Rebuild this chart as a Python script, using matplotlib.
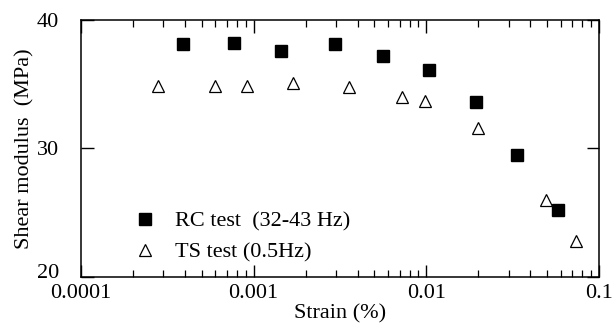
import matplotlib
matplotlib.use("Agg")
import matplotlib.pyplot as plt
import matplotlib.transforms as mtransforms
from matplotlib.ticker import LogLocator, FixedLocator, NullFormatter, FixedFormatter

plt.rcParams['font.family'] = ['Liberation Serif', 'DejaVu Serif']

# Resonant column test
rc_strain = [3.9e-4, 7.7e-4, 1.44e-3, 2.97e-3, 5.6e-3, 1.04e-2, 1.93e-2, 3.36e-2, 5.8e-2]
rc_modulus = [38.1, 38.2, 37.6, 38.1, 37.2, 36.1, 33.6, 29.5, 25.2]

# Torsional shear test
ts_strain = [2.8e-4, 6.0e-4, 9.1e-4, 1.70e-3, 3.55e-3, 7.2e-3, 9.8e-3, 1.98e-2, 4.9e-2, 7.35e-2]
ts_modulus = [34.9, 34.9, 34.9, 35.1, 34.8, 34.0, 33.7, 31.6, 26.0, 22.8]

x_ticks = [0.0001, 0.001, 0.01, 0.1]
x_ticklabels = ['0.0001', '0.001', '0.01', '0.1']
y_ticks = [20, 30, 40]

fig = plt.figure(figsize=(6.12, 3.31), dpi=100)
ax = fig.add_axes([81/612, 1 - 277/331, (599-81)/612, (277-20)/331])

ax.plot(rc_strain, rc_modulus, linestyle='none', marker='s', markersize=8.5,
        color='black', label='RC test  (32-43 Hz)')
ax.plot(ts_strain, ts_modulus, linestyle='none', marker='^', markersize=8,
        markerfacecolor='white', markeredgecolor='black', markeredgewidth=0.9,
        label='TS test (0.5Hz)')

ax.set_xscale('log')
ax.set_xlim(1e-4, 1e-1)
ax.set_ylim(20, 40)

ax.xaxis.set_major_locator(FixedLocator(x_ticks))
ax.xaxis.set_major_formatter(FixedFormatter(x_ticklabels))
ax.xaxis.set_minor_locator(LogLocator(base=10, subs=range(2, 10)))
ax.xaxis.set_minor_formatter(NullFormatter())
ax.yaxis.set_major_locator(FixedLocator(y_ticks))

ax.tick_params(which='major', direction='in', length=9, width=1.0,
               top=True, right=True, labelsize=16)
ax.tick_params(axis='x', which='major', pad=5)
ax.tick_params(axis='y', which='major', pad=16)
ax.tick_params(which='minor', direction='in', length=5, width=0.9,
               top=True, right=True)
for sp in ax.spines.values():
    sp.set_linewidth(1.1)

# Lift the lowest y label a little so it clears the first x label
lift = mtransforms.ScaledTranslation(0, 4/72, fig.dpi_scale_trans)
ylab0 = ax.yaxis.get_major_ticks()[0].label1
ylab0.set_transform(ylab0.get_transform() + lift)

ax.set_xlabel('Strain (%)', fontsize=16, labelpad=1)
ax.set_ylabel('Shear modulus  (MPa)', fontsize=16, labelpad=1.5)

ax.legend(loc='lower left', bbox_to_anchor=(0.085, 0.02), frameon=False,
          fontsize=16, handlelength=1.0, handletextpad=0.85, labelspacing=0.5,
          borderaxespad=0)

fig.savefig('out.png', dpi=100)
